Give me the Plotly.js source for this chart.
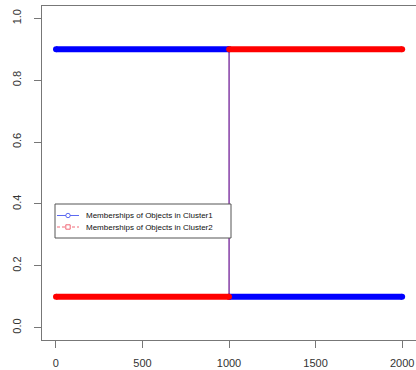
<!DOCTYPE html>
<html>
<head>
<meta charset="utf-8">
<script src="https://cdn.plot.ly/plotly-3.0.1.min.js"></script>
<style>html,body{margin:0;padding:0;background:#fff;}#chart{width:416px;height:370px;}</style>
</head>
<body>
<div id="chart"></div>
<script>
// Object index at the ends of each membership run (objects 1..2000)
const objectIndex = [1, 1000, 1001, 2000];
// Membership values of objects in each cluster at those indices
const cluster1 = [0.9, 0.9, 0.1, 0.1];
const cluster2 = [0.1, 0.1, 0.9, 0.9];
const seriesNames = ['Memberships of Objects in Cluster1', 'Memberships of Objects in Cluster2'];
const xTicks = [0, 500, 1000, 1500, 2000];
const yTicks = [0.0, 0.2, 0.4, 0.6, 0.8, 1.0];
const yTickText = ['0.0', '0.2', '0.4', '0.6', '0.8', '1.0'];

const blue = '#0000ff', red = '#ff0000';
function seg(arr, a, b) { return arr.slice(a, b); }

const traces = [
  // thin connectors between runs (blue solid + red dashed blend to purple)
  { x: seg(objectIndex, 1, 3), y: seg(cluster2, 1, 3), mode: 'lines', showlegend: false,
    line: { color: '#6e1a96', width: 0.8 } },
  { x: seg(objectIndex, 1, 3), y: seg(cluster1, 1, 3), mode: 'lines', showlegend: false,
    line: { color: '#6e1a96', width: 0.8 } },
  // thick runs, cluster 1
  { x: seg(objectIndex, 0, 2), y: seg(cluster1, 0, 2), mode: 'lines+markers', showlegend: false,
    line: { color: blue, width: 6 }, marker: { size: 6, color: blue } },
  { x: seg(objectIndex, 2, 4), y: seg(cluster1, 2, 4), mode: 'lines+markers', showlegend: false,
    line: { color: blue, width: 6 }, marker: { size: 6, color: blue } },
  // thick runs, cluster 2
  { x: seg(objectIndex, 0, 2), y: seg(cluster2, 0, 2), mode: 'lines+markers', showlegend: false,
    line: { color: red, width: 6 }, marker: { size: 6, color: red } },
  { x: seg(objectIndex, 2, 4), y: seg(cluster2, 2, 4), mode: 'lines+markers', showlegend: false,
    line: { color: red, width: 6 }, marker: { size: 6, color: red } }
];

// Compact R-style legend built in paper coordinates of the plot area
const PW = 374, PH = 334; // plot area in px
const px = v => v / PW, py = v => v / PH;
const legX0 = px(13), legX1 = px(189), legY1 = py(136), legY0 = py(102);
const rowY = [py(124.5), py(113)];
const symX0 = px(15), symX1 = px(37), symXc = px(26), textX = px(42);
const legColors = ['#3344ee', '#ee4455'];
const legDash = ['solid', '3px,2px'];

const shapes = [
  { type: 'rect', xref: 'paper', yref: 'paper', x0: legX0, x1: legX1, y0: legY0, y1: legY1,
    line: { color: '#555', width: 1 }, fillcolor: '#fff', layer: 'above' }
];
const annotations = [];
seriesNames.forEach((name, i) => {
  shapes.push({ type: 'line', xref: 'paper', yref: 'paper', x0: symX0, x1: symX1, y0: rowY[i], y1: rowY[i],
    line: { color: legColors[i], width: 0.8, dash: legDash[i] }, layer: 'above' });
  shapes.push({ type: i === 0 ? 'circle' : 'rect', xref: 'paper', yref: 'paper',
    x0: symXc - px(2.2), x1: symXc + px(2.2), y0: rowY[i] - py(2.2), y1: rowY[i] + py(2.2),
    line: { color: legColors[i], width: 0.8 }, fillcolor: '#fff', layer: 'above' });
  annotations.push({ xref: 'paper', yref: 'paper', x: textX, y: rowY[i], xanchor: 'left', yanchor: 'middle',
    text: name, showarrow: false, font: { family: 'Liberation Sans, Arial, sans-serif', size: 8, color: '#111' } });
});

const tickFont = { family: 'Liberation Sans, Arial, sans-serif', size: 11, color: '#333' };

const layout = {
  width: 416, height: 370,
  margin: { l: 42, r: 0, t: 6, b: 30, pad: 0 },
  paper_bgcolor: '#fff', plot_bgcolor: '#fff',
  showlegend: false,
  shapes: shapes,
  annotations: annotations,
  xaxis: {
    range: [-80, 2080], tickvals: xTicks, ticktext: xTicks.map(String),
    showgrid: false, zeroline: false, showline: true, mirror: true,
    linecolor: '#777', linewidth: 1.2, ticks: 'outside', ticklen: 7, tickcolor: '#777',
    tickfont: tickFont, ticklabelstandoff: 6
  },
  yaxis: {
    range: [-0.04, 1.04], tickvals: yTicks, ticktext: yTickText, tickangle: -90,
    showgrid: false, zeroline: false, showline: true, mirror: false,
    linecolor: '#777', linewidth: 1.2, ticks: 'outside', ticklen: 7, tickcolor: '#777',
    tickfont: tickFont, ticklabelstandoff: 8
  }
};

Plotly.newPlot('chart', traces, layout, { displayModeBar: false, staticPlot: true });
</script>
</body>
</html>
